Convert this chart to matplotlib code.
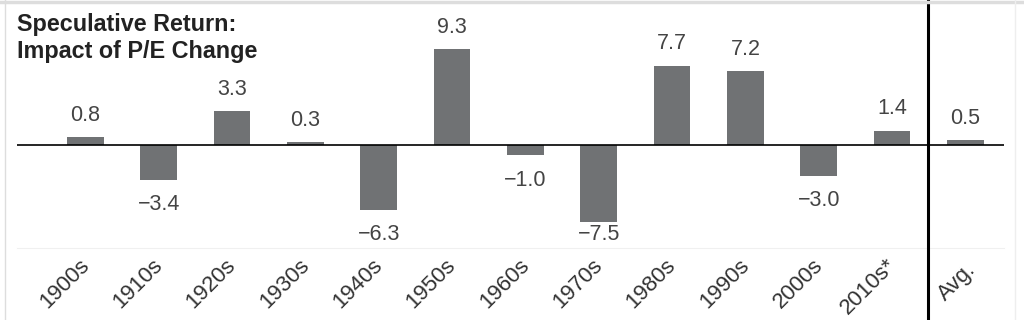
import matplotlib
matplotlib.use('Agg')
import matplotlib.pyplot as plt
from matplotlib.lines import Line2D
from matplotlib.transforms import ScaledTranslation, blended_transform_factory

decades = ['1900s', '1910s', '1920s', '1930s', '1940s', '1950s', '1960s',
           '1970s', '1980s', '1990s', '2000s', '2010s*', 'Avg.']
returns = [0.8, -3.4, 3.3, 0.3, -6.3, 9.3, -1.0, -7.5, 7.7, 7.2, -3.0, 1.4, 0.5]

BAR = '#707274'
plt.rcParams['font.family'] = ['Liberation Sans', 'DejaVu Sans']

fig = plt.figure(figsize=(10.24, 3.2), dpi=100)
ax = fig.add_axes([17 / 1024, 72 / 320, 987 / 1024, 248 / 320])

xs = list(range(len(decades)))
ax.bar(xs, returns, width=0.5, color=BAR, zorder=2)
ax.axhline(0, color='black', lw=1.2, zorder=3)

# labels sit ~2.1 units above / 2.4 below the bar end, kept inside the frame
for x, v in zip(xs, returns):
    txt = f'{v:.1f}'.replace('-', '\u2212')
    ly = v + 2.1 if v >= 0 else max(v - 2.4, -8.72)
    ax.text(x, ly, txt, ha='center', va='center', fontsize=15.5,
            color='#444444')

ax.set_xlim(-0.931, 12.525)
ax.set_ylim(-9.98, 14.05)
ax.set_yticks([])
ax.set_xticks(xs)
ax.set_xticklabels(decades, rotation=45, ha='right', va='top',
                   fontsize=16, color='#333333')
ax.tick_params(axis='x', length=0, pad=5)
shift = ScaledTranslation(8 / 100, 0, fig.dpi_scale_trans)
for lab in ax.get_xticklabels():
    lab.set_transform(lab.get_transform() + shift)
# the Avg. label sits a little further right and lower
avg_lab = ax.get_xticklabels()[-1]
avg_lab.set_transform(avg_lab.get_transform() +
                      ScaledTranslation(7 / 100, -4 / 100, fig.dpi_scale_trans))

for s in ['top', 'left', 'right']:
    ax.spines[s].set_visible(False)
ax.spines['bottom'].set_color('#f0f0f0')
ax.spines['bottom'].set_linewidth(0.8)

# divider before the average bar, full height of the figure
tr = blended_transform_factory(ax.transData, fig.transFigure)
ax.plot([11.49, 11.49], [0, 1], transform=tr, color='black', lw=2.2,
        clip_on=False, zorder=4)

fig.text(17 / 1024, 1 - 31 / 320, 'Speculative Return:', ha='left',
         va='baseline', fontsize=16.8, fontweight='bold', color='#222222')
fig.text(17 / 1024, 1 - 58 / 320, 'Impact of P/E Change', ha='left',
         va='baseline', fontsize=16.8, fontweight='bold', color='#222222')

# faint frame of the original figure
fig.add_artist(Line2D([0, 1], [1 - 1.5 / 320] * 2, color='#dddddd', lw=2.5))
fig.add_artist(Line2D([5 / 1024] * 2, [0, 1], color='#dddddd', lw=1))
fig.add_artist(Line2D([1015 / 1024] * 2, [0, 1], color='#eeeeee', lw=1))

fig.savefig('out.png', dpi=100)
